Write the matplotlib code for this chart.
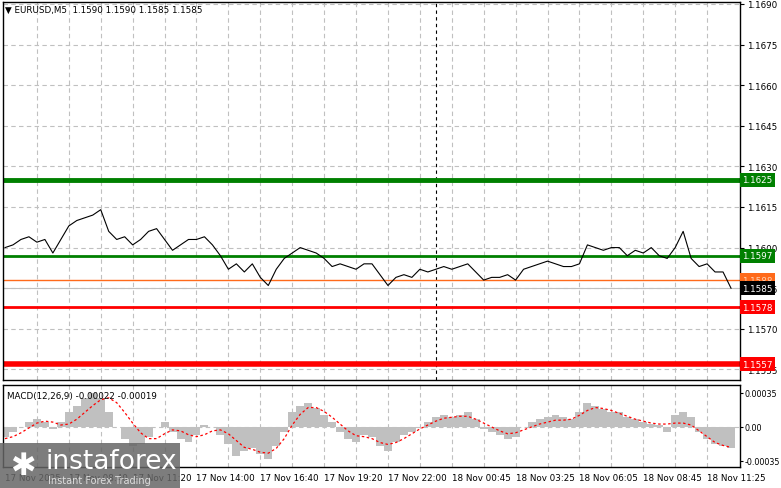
import matplotlib
matplotlib.use("Agg")
import matplotlib.pyplot as plt
import numpy as np
from matplotlib.patches import Rectangle

price = [1.1600,1.1601,1.1603,1.1604,1.1602,1.1603,1.1598,1.1603,1.1608,1.1610,1.1611,1.1612,1.1614,1.1606,1.1603,1.1604,1.1601,1.1603,1.1606,1.1607,1.1603,1.1599,1.1601,1.1603,1.1603,1.1604,1.1601,1.1597,1.1592,1.1594,1.1591,1.1594,1.1589,1.1586,1.1592,1.1596,1.1598,1.1600,1.1599,1.1598,1.1596,1.1593,1.1594,1.1593,1.1592,1.1594,1.1594,1.1590,1.1586,1.1589,1.1590,1.1589,1.1592,1.1591,1.1592,1.1593,1.1592,1.1593,1.1594,1.1591,1.1588,1.1589,1.1589,1.1590,1.1588,1.1592,1.1593,1.1594,1.1595,1.1594,1.1593,1.1593,1.1594,1.1601,1.1600,1.1599,1.1600,1.1600,1.1597,1.1599,1.1598,1.1600,1.1597,1.1596,1.1600,1.1606,1.1596,1.1593,1.1594,1.1591,1.1591,1.1585]
hist = [-0.00010,-0.00005,0,0.00005,0.00008,0.00005,-0.00002,0.00005,0.00015,0.00022,0.00030,0.00035,0.00030,0.00015,0.0,-0.00012,-0.00020,-0.00018,-0.00010,0.0,0.00005,-0.00005,-0.00012,-0.00015,-0.00008,0.00002,0.0,-0.00008,-0.00018,-0.00030,-0.00025,-0.00022,-0.00028,-0.00033,-0.00020,-0.00005,0.00015,0.00022,0.00025,0.00020,0.00012,0.00005,-0.00005,-0.00012,-0.00015,-0.00008,-0.00010,-0.00020,-0.00025,-0.00015,-0.00008,-0.00005,0.0,0.00005,0.00010,0.00012,0.00010,0.00012,0.00015,0.00008,-0.00002,-0.00005,-0.00008,-0.00012,-0.00010,0.0,0.00005,0.00008,0.00010,0.00012,0.00010,0.00008,0.00015,0.00025,0.00022,0.00018,0.00015,0.00015,0.00010,0.00008,0.00005,0.00003,0.00002,-0.00005,0.00012,0.00015,0.00010,-0.00005,-0.00012,-0.00018,-0.00020,-0.00022]
signal = [-0.00012,-0.00010,-0.00006,-0.00001,0.00004,0.00006,0.00005,0.00002,0.00003,0.00008,0.00015,0.00022,0.00028,0.00030,0.00025,0.00015,0.00004,-0.00006,-0.00012,-0.00012,-0.00007,-0.00003,-0.00004,-0.00008,-0.00010,-0.00008,-0.00004,-0.00003,-0.00007,-0.00014,-0.00021,-0.00023,-0.00026,-0.00027,-0.00022,-0.00012,0.00002,0.00013,0.00020,0.00020,0.00016,0.00010,0.00003,-0.00004,-0.00009,-0.00010,-0.00012,-0.00016,-0.00018,-0.00016,-0.00012,-0.00007,-0.00002,0.00002,0.00006,0.00009,0.00010,0.00011,0.00011,0.00008,0.00004,0.0,-0.00004,-0.00007,-0.00006,-0.00003,0.0,0.00003,0.00005,0.00007,0.00007,0.00008,0.00012,0.00017,0.00020,0.00019,0.00017,0.00014,0.00011,0.00008,0.00006,0.00004,0.00003,0.00003,0.00004,0.00004,0.00002,-0.00004,-0.00010,-0.00016,-0.00019,-0.00021]
xlabels = ["17 Nov 2025","17 Nov 08:40","17 Nov 11:20","17 Nov 14:00","17 Nov 16:40","17 Nov 19:20","17 Nov 22:00","18 Nov 00:45","18 Nov 03:25","18 Nov 06:05","18 Nov 08:45","18 Nov 11:25"]
yticks = [1.1555,1.1570,1.1585,1.1600,1.1615,1.1630,1.1645,1.1660,1.1675,1.1690]
levels = [(1.1625,'#008000',3.5,'white'),(1.1597,'#008000',2,'white'),(1.1588,'#ff6a1a',1,'#ffd0b0'),(1.1578,'#ff0000',2,'white'),(1.1557,'#ff0000',4,'white')]

FS=6.3
W,H=781,489
fig=plt.figure(figsize=(7.81,4.89),dpi=100)
def ax_rect(l,t,r,b): return [l/W,1-b/H,(r-l)/W,(b-t)/H]
ax=fig.add_axes(ax_rect(3,3,740,381))
mx=fig.add_axes(ax_rect(3,386,740,468))
xp=np.arange(len(price))*4
xh=np.arange(len(hist))*4
xs=np.arange(len(signal))*4
for a in (ax,mx):
    a.set_xlim(-1,368.5)
    for s in a.spines.values(): s.set_linewidth(1)
    a.yaxis.tick_right()
    a.tick_params(axis='y',labelsize=FS,length=3,pad=2)
    a.tick_params(axis='x',length=0)
    for g in np.arange(16,368,16):
        a.axvline(g,color='#c0c0c0',ls=(0,(4,3)),lw=0.8,zorder=0)
ax.set_ylim(1.15511,1.16907)
ax.set_yticks(yticks); ax.set_yticklabels([f"{v:.4f}" for v in yticks])
for v in yticks: ax.axhline(v,color='#c0c0c0',ls=(0,(4,3)),lw=0.8,zorder=0)
ax.set_xticks([])
ax.axvline(216,color='black',ls=(0,(3,3)),lw=0.8)
for v,c,lw,tc in levels:
    ax.axhline(v,color=c,lw=lw,zorder=2)
ax.plot(xp,price,color='black',lw=0.8,zorder=3)
ax.axhline(1.1585,color='#c0c0c0',lw=0.8,zorder=1)
for v,c,lw,tc in levels+[(1.1585,'black',1,'white')]:
    ax.text(1.003,v,f"{v:.4f}",transform=ax.get_yaxis_transform(),fontsize=FS,color=tc,va='center',ha='left',
            bbox=dict(boxstyle='square,pad=0.3',fc=c,ec='none'),zorder=5,clip_on=False)
ax.text(0.003,0.992,"▼ EURUSD,M5  1.1590 1.1590 1.1585 1.1585",transform=ax.transAxes,fontsize=FS,va='top')

mx.bar(xh,hist,width=4,color='#c0c0c0',zorder=1)
mx.plot(xs,signal,color='red',ls=(0,(2,2)),lw=0.9,zorder=2)
mx.set_ylim(-0.000412,0.000432)
mx.set_yticks([-0.00035,0,0.00035]); mx.set_yticklabels(["-0.00035","0.00","0.00035"])
mx.tick_params(axis='y',labelsize=5.8,pad=1,length=2)
mx.axhline(0,color='#c0c0c0',ls=(0,(4,3)),lw=0.8,zorder=0)
mx.set_xticks(np.arange(0,368,32)); mx.set_xticklabels(xlabels,fontsize=FS,ha='left')
mx.tick_params(axis='x',pad=4)
mx.text(0.005,0.93,"MACD(12,26,9) -0.00022 -0.00019",transform=mx.transAxes,fontsize=FS,va='top')

fig.patches.append(Rectangle((0,0),180/W,45/H,transform=fig.transFigure,fc='#666666',alpha=0.85,ec='none',zorder=10))
fig.text(45/W,27/H,"instaforex",fontsize=19,color='white',zorder=11,va='center')
fig.text(48/W,8/H,"Instant Forex Trading",fontsize=7,color='#dddddd',zorder=11,va='center')
fig.text(10/W,22/H,"✱",fontsize=22,color='white',zorder=11,va='center',family='DejaVu Sans')
fig.savefig("out.png",dpi=100)
